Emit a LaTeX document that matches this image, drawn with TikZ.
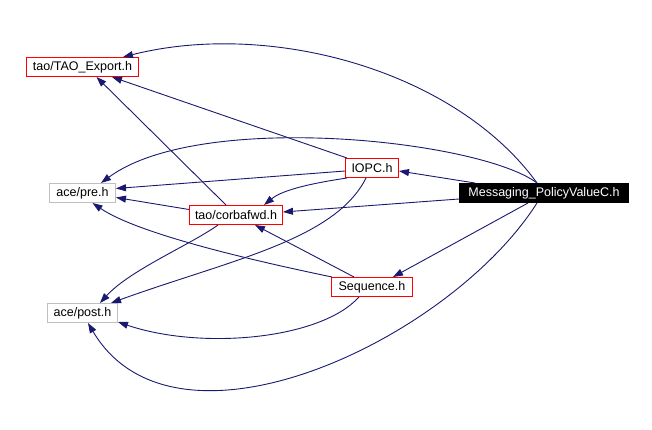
\documentclass[tikz,border=0pt]{standalone}
\usepackage{fontspec}
\setmainfont{Liberation Sans}
\usetikzlibrary{arrows.meta,calc}
\definecolor{edgeblue}{HTML}{191970}
\definecolor{boxgray}{HTML}{BFBFBF}
\definecolor{boxred}{HTML}{FF0000}
\begin{document}
\begin{tikzpicture}[x=1pt,y=-1pt,
  file/.style={draw=boxred,line width=1pt,minimum height=19pt,inner xsep=0pt,inner ysep=0pt,font=\fontsize{12.5}{14}\selectfont},
  sysfile/.style={file,draw=boxgray},
  mainfile/.style={file,draw=black,fill=black,text=white},
  dep/.style={draw=edgeblue,line width=0.9pt,-{Triangle[length=10pt,width=7pt]}}]
\useasboundingbox (0,0) rectangle (652,430);

\node[file,minimum width=112pt] (tao) at (82.5,67) {tao/TAO\_Export.h};
\node[sysfile,minimum width=66pt] (pre) at (82.5,193) {ace/pre.h};
\node[file,minimum width=93pt] (fwd) at (236,215) {tao/corbafwd.h};
\node[sysfile,minimum width=70pt] (post) at (82.5,313) {ace/post.h};
\node[file,minimum width=81pt] (seq) at (372,287) {Sequence.h};
\node[file,minimum width=53pt] (iopc) at (372,168) {IOPC.h};
\node[mainfile,minimum width=169pt] (msg) at (544,193) {Messaging\_PolicyValueC.h};

\draw[dep] ($(msg.north)+(-7,0)$) .. controls (455,70) and (270,20) .. ($(tao.north east)+(-16,0)$);
\draw[dep] ($(msg.north)+(-7,0)$) .. controls (480,140) and (200,110) .. ($(pre.north east)+(-15,0)$);
\draw[dep] ($(msg.north west)+(16,0)$) -- ($(iopc.east)+(0,3)$);
\draw[dep] ($(msg.west)+(0,6)$) -- ($(fwd.east)+(0,-3)$);
\draw[dep] ($(msg.south)+(-16,0)$) -- ($(seq.north east)+(-20,0)$);
\draw[dep] ($(msg.south)+(-7,0)$) .. controls (450,340) and (175,470) .. ($(post.south west)+(41,0)$);

\draw[dep] ($(iopc.north west)+(2,0)$) -- ($(tao.south east)+(-27,0)$);
\draw[dep] ($(iopc.west)+(0,3)$) -- ($(pre.east)+(0,-4.5)$);
\draw[dep] ($(iopc.south west)+(2,0)$) .. controls (300,185) and (280,192) .. ($(fwd.north east)+(-19,0)$);
\draw[dep] ($(iopc.south)+(-6,0)$) .. controls (335,240) and (230,260) .. ($(post.north east)+(-7,0)$);

\draw[dep] ($(fwd.north)+(-10,0)$) -- ($(tao.south)+(14,0)$);
\draw[dep] ($(fwd.west)+(0,-5.5)$) -- ($(pre.east)+(0,4.5)$);
\draw[dep] ($(fwd.south)+(-18,0)$) .. controls (190,245) and (130,270) .. ($(post.north east)+(-18,0)$);

\draw[dep] ($(seq.north west)+(1,0)$) .. controls (260,262) and (140,235) .. ($(pre.south)+(10,0)$);
\draw[dep] ($(seq.north west)+(23,0)$) -- ($(fwd.south)+(19,0)$);
\draw[dep] ($(seq.south)+(-13,0)$) .. controls (320,340) and (200,350) .. ($(post.east)+(0,9)$);
\end{tikzpicture}
\end{document}
